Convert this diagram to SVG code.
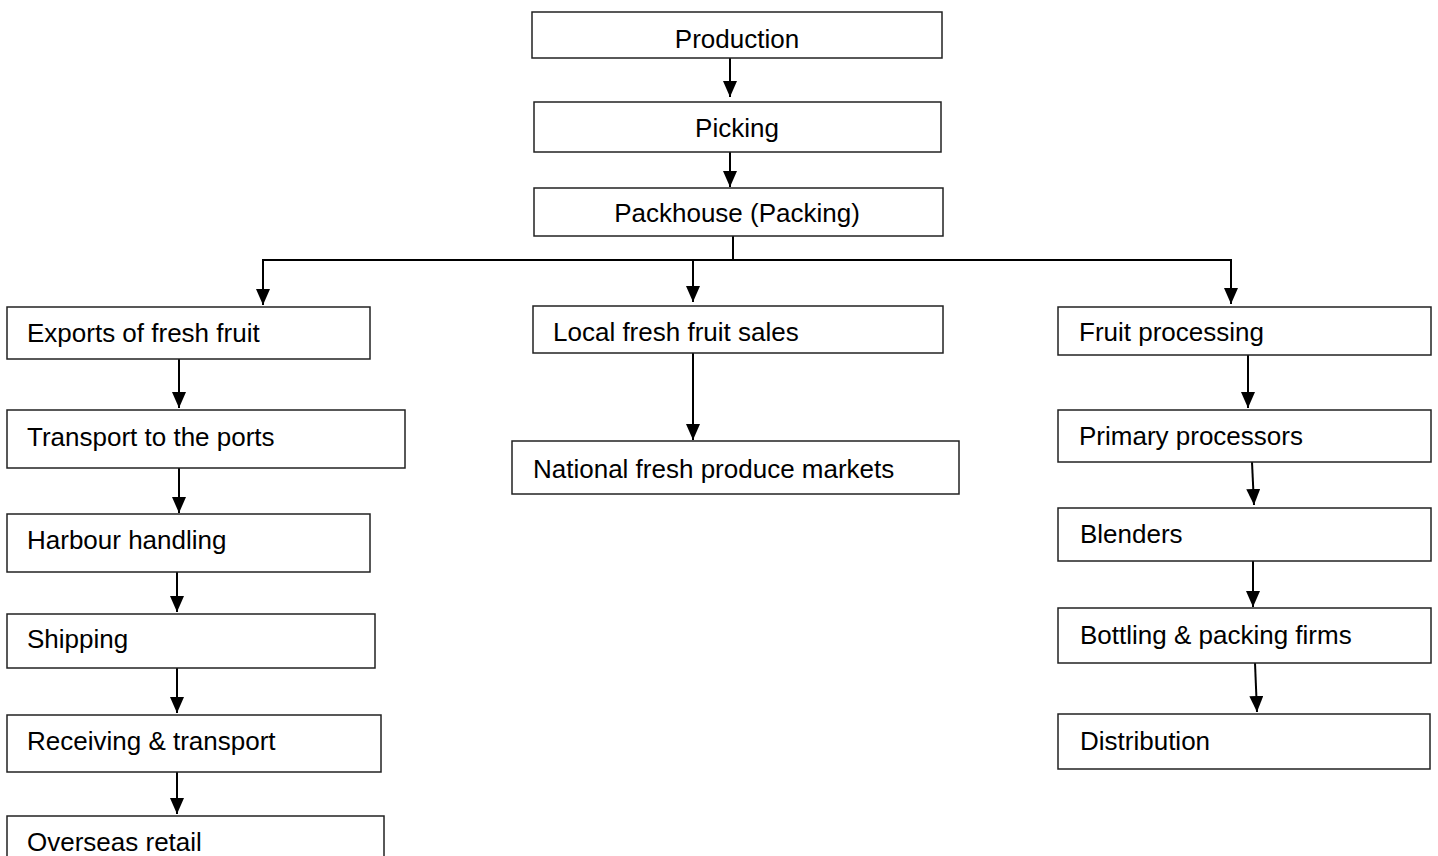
<svg xmlns="http://www.w3.org/2000/svg" width="1438" height="856" viewBox="0 0 1438 856">
<style>
.box{fill:#fff;stroke:#222;stroke-width:1.5}
.t{font-family:"Liberation Sans",Arial,sans-serif;font-size:26px;fill:#000}
.c{text-anchor:middle}
.ln{stroke:#000;stroke-width:2;fill:none}
.ar{stroke:#000;stroke-width:2;fill:none;marker-end:url(#ah)}
</style>
<defs>
<marker id="ah" markerUnits="userSpaceOnUse" markerWidth="17" markerHeight="15" refX="16" refY="7" orient="auto">
<path d="M0,0 L16,7 L0,14 z" fill="#000"/>
</marker>
</defs>
<rect width="1438" height="856" fill="#fff"/>
<g id="connectors">
<line class="ar" x1="730" y1="58" x2="730" y2="97"/>
<line class="ar" x1="730" y1="152" x2="730" y2="187"/>
<line class="ln" x1="733" y1="236" x2="733" y2="260"/>
<line class="ln" x1="262" y1="260" x2="1232" y2="260"/>
<line class="ar" x1="263" y1="260" x2="263" y2="305"/>
<line class="ar" x1="693" y1="260" x2="693" y2="302"/>
<line class="ar" x1="1231" y1="260" x2="1231" y2="304"/>
<line class="ar" x1="179" y1="359" x2="179" y2="408"/>
<line class="ar" x1="179" y1="468" x2="179" y2="513"/>
<line class="ar" x1="177" y1="570" x2="177" y2="612"/>
<line class="ar" x1="177" y1="668" x2="177" y2="713"/>
<line class="ar" x1="177" y1="772" x2="177" y2="814"/>
<line class="ar" x1="693" y1="353" x2="693" y2="440"/>
<line class="ar" x1="1248" y1="355" x2="1248" y2="408"/>
<line class="ar" x1="1252" y1="462" x2="1254" y2="505"/>
<line class="ar" x1="1253" y1="561" x2="1253" y2="607"/>
<line class="ar" x1="1255" y1="663" x2="1257" y2="712"/>
</g>
<g id="production"><rect class="box" x="532" y="12" width="410" height="46"/><text class="t c" x="737" y="48">Production</text></g>
<g id="picking"><rect class="box" x="534" y="102" width="407" height="50"/><text class="t c" x="737" y="137">Picking</text></g>
<g id="packhouse"><rect class="box" x="534" y="188" width="409" height="48"/><text class="t c" x="737" y="222">Packhouse (Packing)</text></g>
<g id="exports"><rect class="box" x="7" y="307" width="363" height="52"/><text class="t" x="27" y="342">Exports of fresh fruit</text></g>
<g id="transport"><rect class="box" x="7" y="410" width="398" height="58"/><text class="t" x="27" y="446">Transport to the ports</text></g>
<g id="harbour"><rect class="box" x="7" y="514" width="363" height="58"/><text class="t" x="27" y="549">Harbour handling</text></g>
<g id="shipping"><rect class="box" x="7" y="614" width="368" height="54"/><text class="t" x="27" y="648">Shipping</text></g>
<g id="receiving"><rect class="box" x="7" y="715" width="374" height="57"/><text class="t" x="27" y="750">Receiving &amp; transport</text></g>
<g id="overseas"><rect class="box" x="7" y="816" width="377" height="60"/><text class="t" x="27" y="851">Overseas retail</text></g>
<g id="local"><rect class="box" x="533" y="306" width="410" height="47"/><text class="t" x="553" y="341">Local fresh fruit sales</text></g>
<g id="national"><rect class="box" x="512" y="441" width="447" height="53"/><text class="t" x="533" y="478">National fresh produce markets</text></g>
<g id="fruitproc"><rect class="box" x="1058" y="307" width="373" height="48"/><text class="t" x="1079" y="341">Fruit processing</text></g>
<g id="primary"><rect class="box" x="1058" y="410" width="373" height="52"/><text class="t" x="1079" y="445">Primary processors</text></g>
<g id="blenders"><rect class="box" x="1058" y="508" width="373" height="53"/><text class="t" x="1080" y="543">Blenders</text></g>
<g id="bottling"><rect class="box" x="1058" y="608" width="373" height="55"/><text class="t" x="1080" y="644">Bottling &amp; packing firms</text></g>
<g id="distribution"><rect class="box" x="1058" y="714" width="372" height="55"/><text class="t" x="1080" y="750">Distribution</text></g>
</svg>
